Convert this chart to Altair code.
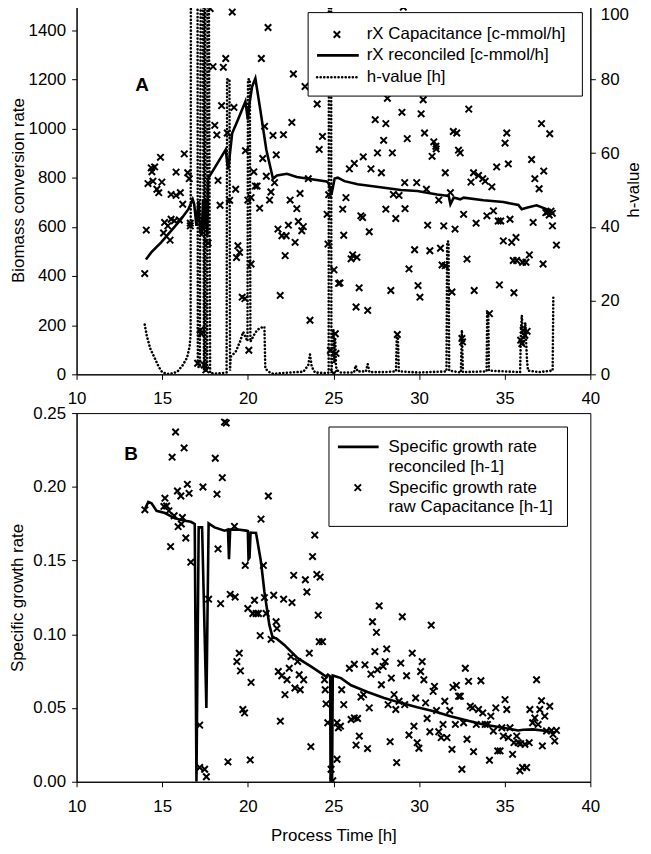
import altair as alt
import pandas as pd

FONT = "Liberation Sans"
W, H = 517, 371
CROSS = "M-1,-1L1,1M-1,1L1,-1"

# ---------------- Panel A data ----------------
rx_t = [13.98, 14.07, 14.17, 14.46, 14.36, 14.56, 14.4, 14.9, 14.69, 14.8, 14.98, 15.81, 16.29, 16.49, 16.58,
        15.52, 15.81, 16.06, 16.2, 15.14, 15.08, 15.33, 15.52, 15.46, 15.71, 16.0, 16.64, 16.64, 17.22, 17.26,
        17.07, 17.45, 17.55, 17.68, 17.8, 17.97, 18.07, 18.19, 18.26, 18.38, 18.47, 18.57, 18.71, 18.8, 18.94,
        19.09, 19.19, 19.29, 19.42, 19.52, 19.34, 19.67, 19.83, 19.86, 20.0, 20.19, 20.19, 20.06, 20.35, 20.44,
        20.54, 20.69, 20.79, 20.87, 20.98, 21.08, 21.18, 21.27, 21.35, 21.47, 21.56, 21.66, 21.76, 21.89, 21.99,
        22.08, 22.18, 22.24, 22.37, 22.47, 22.57, 22.66, 22.76, 22.86, 22.95, 23.05, 23.15, 23.24, 23.34, 23.53,
        23.63, 24.05, 24.17, 24.36, 24.72, 24.63, 24.68, 25.03, 25.3, 25.38, 25.11, 24.82, 25.02, 25.15,
        29.08, 28.15, 30.24, 29.0, 30.12, 30.32, 27.44, 28.06, 27.93, 29.31, 30.86, 30.98, 30.76, 31.0, 27.57,
        28.44, 26.74, 27.19, 27.8, 26.22, 25.93, 25.73, 25.54, 25.6, 26.12, 26.03, 26.37, 26.5, 26.32, 27.0,
        26.6, 26.7, 27.09, 28.06, 28.64, 28.5, 28.83, 29.16, 29.18, 29.41, 28.35, 29.74, 29.86, 29.94, 30.05,
        30.43, 30.5, 30.63, 31.15, 31.25, 31.34, 31.53, 31.44, 31.53, 31.83, 31.92, 32.0, 32.2, 32.3, 32.4,
        32.1, 32.6, 32.8, 32.9, 33.03, 33.18, 33.33, 33.22, 33.47, 33.72, 33.86, 33.96, 34.25, 34.34, 34.53,
        34.62, 34.69, 34.77, 34.92, 35.02, 35.12, 35.21, 35.31, 35.41, 35.66, 35.5, 35.7, 35.54, 36.04, 36.24,
        36.44, 36.57, 36.66, 36.76, 37.01, 37.15, 37.28, 37.24, 37.63, 37.4, 37.79, 38.02, 37.5, 37.6, 37.7,
        37.78, 28.73, 32.5, 32.54, 34.11, 35.93, 36.08, 36.18, 36.31, 36.0]
rx_v = [410, 587, 776, 786, 840, 844, 824, 883, 753, 739, 782, 823, 897, 820, 796,
        732, 728, 739, 692, 618, 575, 604, 631, 546, 625, 628, 615, 604, 179, 166,
        45, 38, 18, 534, 1488, 1252, 1013, 974, 789, 688, 1093, 1249, 1285, 982, 708,
        1474, 1086, 753, 523, 496, 475, 314, 308, 910, 709, 719, 449, 98, 824, 766,
        766, 676, 1285, 878, 1009, 806, 1411, 709, 742, 972, 780, 893, 591, 321, 564,
        975, 483, 564, 607, 709, 1025, 1222, 537, 674, 622, 736, 584, 601, 1171, 796,
        220, 1100, 915, 968, 731, 651, 530, 425, 370, 372, 165, 97, 4, 85,
        1494, 1123, 1117, 1066, 1060, 982, 1036, 1020, 952, 959, 946, 928, 887, 917, 901,
        901, 885, 836, 820, 858, 836, 719, 672, 566, 486, 470, 476, 352, 274, 260,
        645, 638, 580, 672, 634, 732, 728, 780, 674, 429, 341, 507, 780, 361, 314,
        753, 607, 503, 709, 513, 445, 442, 604, 820, 739, 335, 988, 982, 912, 901,
        591, 651, 469, 1079, 782, 820, 615, 341, 809, 796, 786, 645, 763, 665, 844,
        624, 364, 624, 543, 941, 982, 856, 631, 537, 557, 463, 463, 332, 456, 456,
        486, 874, 618, 796, 755, 1020, 827, 449, 979, 658, 604, 526, 660, 648, 664,
        655, 162, 146, 132, 247, 139, 179, 159, 175, 125]

rec_t = [14.05, 14.36, 14.94, 15.52, 16.1, 16.53, 16.78, 16.87, 17.0, 17.12, 17.2, 17.3, 17.39, 17.45, 17.55,
         17.64, 17.68, 18.71, 18.8, 18.86, 18.96, 19.09, 19.38, 19.86, 20.0, 20.1, 20.25, 20.44, 20.73, 21.08,
         21.47, 21.7, 22.28, 22.86, 23.53, 24.6, 24.72, 24.88, 25.07, 25.25, 25.64, 26.41, 27.96, 28.93, 29.9,
         31.05, 31.73, 31.83, 32.02, 32.4, 32.6, 33.76, 34.92, 35.8, 35.99, 36.28, 36.86, 37.44, 37.82]
rec_v = [467, 496, 537, 584, 631, 672, 712, 692, 604, 705, 590, 564, 712, 590, 712,
         564, 796, 914, 860, 834, 901, 982, 1029, 1110, 1036, 1103, 1171, 1204, 1076, 914,
         796, 809, 816, 803, 796, 785, 778, 731, 797, 800, 786, 773, 759, 750, 746,
         732, 726, 692, 719, 712, 719, 708, 701, 689, 672, 678, 688, 672, 655]

h_t = [13.98, 14.1, 14.3, 14.55, 14.8, 15.0, 15.3, 15.6, 15.9, 16.2, 16.45, 16.6, 16.66, 16.69,
       17.05, 17.08, 17.2, 17.29, 17.31, 17.44, 17.46, 17.5, 17.52, 17.63, 17.66, 17.8, 18.2, 18.6, 18.76,
       18.79, 18.93, 18.96, 19.0, 19.29, 19.54, 19.73, 19.86, 19.98, 20.01, 20.12, 20.15, 20.35, 20.54,
       20.73, 20.97, 21.02, 21.22, 21.5, 21.9, 22.47, 23.24, 23.53, 23.63, 23.73, 23.92, 24.6, 24.72,
       24.75, 24.85, 24.88, 24.95, 25.0, 25.05, 25.1, 25.15, 25.25, 25.4, 26.2, 26.3, 26.4, 26.9, 27.0,
       27.1, 28.0, 28.65, 28.7, 28.76, 28.82, 30.0, 31.6, 31.64, 31.72, 31.76, 32.44, 32.5, 32.56,
       33.94, 33.98, 34.04, 34.08, 35.9, 35.95, 36.0, 36.1, 36.2, 36.3, 36.36, 37.0, 37.8, 37.84, 37.88]
h_val = [13.5, 10.5, 7.0, 4.5, 2.0, 0.6, 0.1, 0.2, 0.8, 2.5, 4.5, 7.5, 11, 200,
         200, 2, 2, 200, 200, 1, 200, 200, 1, 1, 200, 0.3, 0.2, 0.4, 0.5,
         80, 80, 1, 4.8, 6.1, 8.8, 11.5, 10.2, 9, 80, 80, 8.8, 10.6, 12.0,
         12.6, 12.9, 1.6, 0.7, 0.1, 0.3, 0.5, 0.7, 2.5, 5.4, 2.1, 0.5, 0.3, 0.5,
         200, 200, 0.3, 6, 12, 3, 10, 2, 1, 0.5, 0.5, 2.4, 0.8, 0.8, 2.8,
         0.6, 0.6, 0.8, 10.6, 10.6, 0.8, 0.5, 0.8, 36, 36, 1, 0.5, 12, 0.6,
         0.8, 17, 17, 1, 0.6, 12, 16, 8, 14, 4, 1, 0.6, 1, 21.3, 21.3]

# ---------------- Panel B data ----------------
mu_t = [13.99, 15.16, 15.1, 15.26, 15.39, 15.49, 15.58, 15.78, 15.7, 15.89, 15.93, 16.09, 16.18, 16.28, 16.38,
        16.47, 16.57, 16.67, 16.12, 17.38, 17.19, 17.19, 17.48, 17.58, 17.71, 18.1, 18.2, 18.26, 18.41, 18.51,
        18.64, 18.74, 18.84, 18.97, 19.26, 19.22, 19.36, 19.5, 19.57, 19.71, 19.81, 19.85, 20.0, 20.14, 20.19,
        20.39, 20.29, 20.48, 20.62, 20.72, 20.77, 20.91, 20.97, 21.07, 21.2, 21.36, 21.51, 21.65, 21.7, 21.78,
        21.9, 21.98, 22.09, 22.17, 22.29, 22.42, 22.52, 22.58, 22.68, 22.75, 22.91, 23.0, 23.06, 23.26, 23.36,
        23.45, 23.59, 23.68, 23.78, 23.91, 24.03, 24.11, 24.22, 24.17, 24.36, 24.48, 24.52, 24.57,
        24.67, 24.86, 24.96, 25.21, 25.29, 25.41, 25.21, 25.48, 25.6, 25.93, 26.22, 26.03, 26.22, 26.41,
        26.32, 26.51, 26.61, 26.76, 26.84, 26.99, 27.09, 27.19, 27.28, 27.42, 27.51, 27.57, 27.67, 27.8, 27.9,
        28.02, 28.11, 28.19, 28.31, 28.38, 28.54, 28.64, 28.69, 28.83, 28.93, 29.02, 29.16, 29.27, 29.41, 29.6,
        29.7, 29.8, 29.89, 29.99, 30.09, 30.18, 30.28, 30.38, 30.47, 30.63, 30.71, 30.82, 30.9, 31.02, 31.15,
        31.29, 31.4, 31.5, 31.63, 31.79, 31.92, 31.98, 32.12, 32.18, 32.31, 32.41, 32.5, 32.6, 32.7, 32.8,
        32.89, 32.99, 33.12, 33.18, 33.34, 33.47, 33.61, 33.72, 33.86, 33.99, 34.11, 34.19, 34.34, 34.48, 34.59,
        34.73, 34.83, 34.92, 35.02, 35.12, 35.21, 35.31, 35.46, 35.54, 35.7, 35.79, 35.89, 36.04, 36.28, 35.93,
        36.18, 36.43, 36.47, 36.63, 36.76, 36.86, 36.95, 37.05, 37.15, 37.2, 37.34, 37.44, 37.63, 37.73, 37.82,
        37.92, 38.02]
mu_v = [0.1844, 0.1923, 0.1867, 0.187, 0.1837, 0.1595, 0.2201, 0.2372, 0.1804, 0.1972, 0.173, 0.1938, 0.1792, 0.2264, 0.1653,
        0.2017, 0.1956, 0.1489, 0.1748, 0.1999, 0.0384, 0.0097, 0.0085, 0.0034, 0.1238, 0.2194, 0.195, 0.1579, 0.1208, 0.2062,
        0.2439, 0.2433, 0.0135, 0.1271, 0.1253, 0.1732, 0.0815, 0.0872, 0.0752, 0.049, 0.0467, 0.1467, 0.1175, 0.0148, 0.0674,
        0.1231, 0.1141, 0.1141, 0.1141, 0.0991, 0.1781, 0.1467, 0.1249, 0.1141, 0.1938, 0.0966, 0.1265, 0.1085, 0.104, 0.0748,
        0.0411, 0.0719, 0.1238, 0.0591, 0.0692, 0.077, 0.0849, 0.1215, 0.14, 0.0636, 0.0815, 0.0726, 0.0624, 0.0692, 0.137,
        0.1287, 0.0872, 0.0238, 0.1527, 0.1673, 0.1406, 0.113, 0.1388, 0.095, 0.095, 0.0692, 0.0624, 0.0528,
        0.04, 0.0085, 0.0007, 0.04, 0.0366, 0.0377, 0.0153, 0.0624, 0.0523, 0.077, 0.0797, 0.0422, 0.0433, 0.0429,
        0.0249, 0.031, 0.0575, 0.0591, 0.0793, 0.0225, 0.0501, 0.073, 0.1085, 0.0883, 0.1013, 0.0759, 0.1193, 0.0658, 0.0782,
        0.0815, 0.0901, 0.0523, 0.0272, 0.0703, 0.0591, 0.049, 0.013, 0.0546, 0.0804, 0.1119, 0.0523, 0.0719, 0.0317, 0.0872,
        0.0377, 0.0568, 0.0265, 0.0227, 0.0748, 0.0815, 0.0692, 0.0535, 0.0429, 0.0339, 0.1062, 0.0613, 0.0647, 0.0483, 0.0339,
        0.0299, 0.0389, 0.0546, 0.0299, 0.0483, 0.022, 0.064, 0.0389, 0.0654, 0.058, 0.058, 0.0085, 0.04, 0.077, 0.0288,
        0.0681, 0.0512, 0.0501, 0.0204, 0.0389, 0.049, 0.0685, 0.0467, 0.0389, 0.0389, 0.0146, 0.0445, 0.0344, 0.0501, 0.0209,
        0.0209, 0.0366, 0.031, 0.0557, 0.049, 0.0299, 0.0366, 0.0186, 0.0265, 0.031, 0.0265, 0.0074, 0.0097, 0.0097, 0.0258,
        0.0254, 0.0265, 0.049, 0.04, 0.0433, 0.0692, 0.0389, 0.049, 0.055, 0.0243, 0.0445, 0.0344, 0.0512, 0.0348, 0.0321,
        0.0276, 0.0348]

mrec_t = [13.99, 14.19, 14.38, 14.67, 15.16, 15.74, 16.32, 16.67, 16.9, 17.0, 17.13, 17.33, 17.58, 17.71, 18.06,
          18.64, 18.84, 18.9, 18.97, 19.42, 19.9, 20.0, 20.04, 20.1, 20.16, 20.48, 20.77, 20.97, 21.26, 21.45,
          21.65, 22.13, 22.91, 23.68, 24.36, 24.55, 24.67, 24.81, 24.83, 24.92, 24.96, 25.15, 25.44, 26.03, 26.99,
          27.96, 28.93, 29.89, 30.86, 31.83, 32.8, 33.76, 34.92, 35.79, 36.08, 36.66, 37.44, 37.92]
mrec_v = [0.1849, 0.1898, 0.1889, 0.1837, 0.1822, 0.1786, 0.177, 0.1763, 0.1748, 0.0, 0.1725, 0.1725, 0.050, 0.1752, 0.1725,
          0.1703, 0.171, 0.151, 0.171, 0.171, 0.1703, 0.17, 0.151, 0.152, 0.169, 0.1687, 0.149, 0.1287, 0.1062, 0.0977,
          0.0973, 0.0928, 0.0838, 0.0782, 0.073, 0.0714, 0.0726, 0.0714, 0.0, 0.0, 0.0721, 0.0714, 0.0703, 0.0654, 0.0609,
          0.0568, 0.0535, 0.0505, 0.0478, 0.0445, 0.0416, 0.0389, 0.0366, 0.0348, 0.0353, 0.0355, 0.0344, 0.0332]

x_ticks = [10, 15, 20, 25, 30, 35, 40]
top_left_ticks = [0, 200, 400, 600, 800, 1000, 1200, 1400]
top_right_ticks = [0, 20, 40, 60, 80, 100]
bot_ticks = [0.0, 0.05, 0.10, 0.15, 0.20, 0.25]

df_rx = pd.DataFrame({"t": rx_t, "v": rx_v})
df_rec = pd.DataFrame({"t": rec_t, "v": rec_v})
df_h = pd.DataFrame({"t": h_t, "h": h_val})
df_mu = pd.DataFrame({"t": mu_t, "v": mu_v})
df_mrec = pd.DataFrame({"t": mrec_t, "v": mrec_v})
dummy = pd.DataFrame({"d": [0]})

xscale = alt.Scale(domain=[10, 40], nice=False, zero=False)
MSIZE = 42
MSTROKE = 2.0
DOT = [0.1, 3.5]

def xax(show_title):
    if show_title:
        return alt.Axis(values=x_ticks, format="d", tickSize=5, labelPadding=12, labelFlush=False,
                        title="Process Time [h]", titlePadding=13)
    return alt.Axis(values=x_ticks, format="d", tickSize=5, labelPadding=11, labelFlush=False, title=None)

def txt(s, x, y, size=17, weight="normal", align="left", angle=0):
    return alt.Chart(dummy).mark_text(text=s, align=align, baseline="middle", font=FONT, angle=angle,
                                      fontSize=size, fontWeight=weight, color="black").encode(
        x=alt.value(x), y=alt.value(y))

def cross_sym(x, y):
    return alt.Chart(dummy).mark_point(shape=CROSS, size=MSIZE, filled=False, color="black",
                                       strokeWidth=MSTROKE, opacity=1).encode(x=alt.value(x), y=alt.value(y))

# ---------------- Panel A ----------------
h_line = alt.Chart(df_h).mark_line(color="black", strokeWidth=2.6, strokeDash=DOT,
                                   strokeCap="round", clip=True).encode(
    x=alt.X("t:Q", scale=xscale, axis=xax(False)),
    y=alt.Y("h:Q", scale=alt.Scale(domain=[0, 100], nice=False),
            axis=alt.Axis(orient="right", values=top_right_ticks, format="d", title=None,
                          tickSize=5, labelPadding=5,
                          labelOffset={"condition": {"test": "datum.value == 100", "value": 9}, "value": 0})))

rx_pts = alt.Chart(df_rx).mark_point(shape=CROSS, size=MSIZE, filled=False, color="black",
                                     strokeWidth=MSTROKE, opacity=1, clip=True).encode(
    x=alt.X("t:Q", scale=xscale, axis=xax(False)),
    y=alt.Y("v:Q", scale=alt.Scale(domain=[0, 1500], nice=False),
            axis=alt.Axis(values=top_left_ticks, format="d", title="Biomass conversion rate",
                          tickSize=5, labelPadding=6, titlePadding=1)))

rx_rec = alt.Chart(df_rec).mark_line(color="black", strokeWidth=2.6, clip=True).encode(
    x=alt.X("t:Q", scale=xscale),
    y=alt.Y("v:Q", scale=alt.Scale(domain=[0, 1500], nice=False)))

leg_a = [
    alt.Chart(dummy).mark_rect(fill="white", stroke="black", strokeWidth=1).encode(
        x=alt.value(233), x2=alt.value(509), y=alt.value(7), y2=alt.value(91)),
    cross_sym(262, 29),
    alt.Chart(dummy).mark_rule(color="black", strokeWidth=2.6).encode(
        x=alt.value(242), x2=alt.value(284), y=alt.value(50)),
    alt.Chart(dummy).mark_rule(color="black", strokeWidth=2.6, strokeDash=DOT, strokeCap="round").encode(
        x=alt.value(242), x2=alt.value(284), y=alt.value(72)),
    txt("rX Capacitance [c-mmol/h]", 292, 29),
    txt("rX reconciled [c-mmol/h]", 292, 50),
    txt("h-value [h]", 292, 72),
    txt("A", 59, 80, size=19, weight="bold"),
    txt("h-value", W + 44, H / 2, align="center", angle=270),
]

panel_a = alt.layer(h_line, alt.layer(rx_pts, rx_rec), *leg_a).resolve_scale(
    y="independent").properties(width=W, height=H)

# ---------------- Panel B ----------------
mu_pts = alt.Chart(df_mu).mark_point(shape=CROSS, size=MSIZE, filled=False, color="black",
                                     strokeWidth=MSTROKE, opacity=1, clip=True).encode(
    x=alt.X("t:Q", scale=xscale, axis=xax(True)),
    y=alt.Y("v:Q", scale=alt.Scale(domain=[0, 0.25], nice=False),
            axis=alt.Axis(values=bot_ticks, format=".2f", title="Specific growth rate",
                          tickSize=5, labelPadding=6, titlePadding=6)))

mu_rec = alt.Chart(df_mrec).mark_line(color="black", strokeWidth=2.6, clip=True).encode(
    x=alt.X("t:Q", scale=xscale),
    y=alt.Y("v:Q", scale=alt.Scale(domain=[0, 0.25], nice=False)))

leg_b = [
    alt.Chart(dummy).mark_rect(fill="white", stroke="black", strokeWidth=1).encode(
        x=alt.value(254), x2=alt.value(494), y=alt.value(14), y2=alt.value(114)),
    alt.Chart(dummy).mark_rule(color="black", strokeWidth=2.6).encode(
        x=alt.value(263), x2=alt.value(304), y=alt.value(34)),
    cross_sym(283, 75),
    txt("Specific growth rate", 314, 34),
    txt("reconciled [h-1]", 314, 54),
    txt("Specific growth rate", 314, 75),
    txt("raw Capacitance [h-1]", 314, 95),
    txt("B", 48, 41, size=19, weight="bold"),
]

panel_b = alt.layer(mu_pts, mu_rec, *leg_b).properties(width=W, height=H)

chart = alt.vconcat(panel_a, panel_b, spacing=-4).properties(
    padding={"left": 0, "top": -6, "right": 0, "bottom": 0}
).configure_view(stroke="black", strokeWidth=1).configure_axis(
    labelFont=FONT, titleFont=FONT, labelFontSize=17, titleFontSize=17,
    labelColor="black", titleColor="black", domainColor="black", tickColor="black",
    grid=False, titleFontWeight="normal", domainWidth=1, tickWidth=1
)

chart.save("out.html", embed_options={"renderer": "svg", "actions": False})
